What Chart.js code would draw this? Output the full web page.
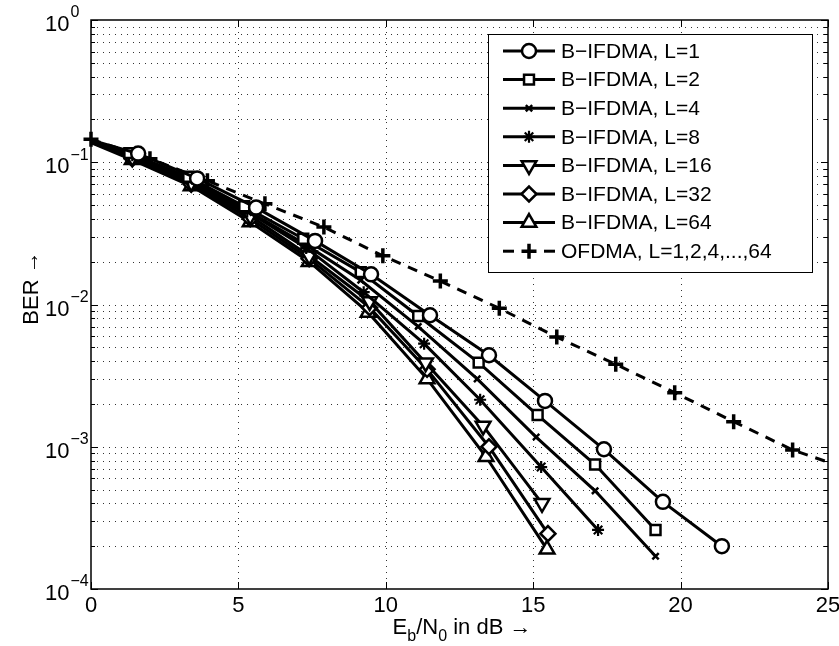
<!DOCTYPE html>
<html>
<head>
<meta charset="utf-8">
<script src="https://cdn.jsdelivr.net/npm/chart.js@4.4.0/dist/chart.umd.min.js"></script>
<style>
  html, body { margin: 0; padding: 0; background: #fff; }
  #wrap { width: 839px; height: 646px; }
</style>
</head>
<body>
<div id="wrap"><canvas id="grafico"></canvas></div>
<script>
// Eb/N0 (dB) and BER, one pair of arrays per curve
// (the first point of each B-IFDMA curve lies just left of the axis and is clipped)
const ebn0_L1 = [-0.35, 1.6, 3.6, 5.6, 7.6, 9.5, 11.5, 13.5, 15.4, 17.4, 19.4, 21.4];
const ber_L1 = [0.15, 0.115, 0.077, 0.048, 0.028, 0.0163, 0.0084, 0.0044, 0.0021, 0.00096, 0.00041, 0.0002];
const ebn0_L2 = [-0.7, 1.3, 3.3, 5.2, 7.2, 9.15, 11.1, 13.15, 15.15, 17.1, 19.15];
const ber_L2 = [0.155, 0.116, 0.079, 0.049, 0.029, 0.0169, 0.0083, 0.0039, 0.00167, 0.00075, 0.00026];
const ebn0_L4 = [-0.7, 1.3, 3.3, 5.2, 7.2, 9.15, 11.1, 13.1, 15.1, 17.1, 19.15];
const ber_L4 = [0.155, 0.114, 0.077, 0.047, 0.027, 0.0148, 0.007, 0.003, 0.00117, 0.00049, 0.00017];
const ebn0_L8 = [-0.6, 1.4, 3.3, 5.3, 7.3, 9.25, 11.3, 13.2, 15.27, 17.2];
const ber_L8 = [0.155, 0.112, 0.075, 0.045, 0.025, 0.0122, 0.0053, 0.00214, 0.00072, 0.00026];
const ebn0_L16 = [-0.6, 1.4, 3.4, 5.4, 7.4, 9.45, 11.35, 13.3, 15.3];
const ber_L16 = [0.155, 0.108, 0.072, 0.042, 0.022, 0.0105, 0.0039, 0.0014, 0.0004];
const ebn0_L32 = [-0.6, 1.4, 3.4, 5.4, 7.4, 9.45, 11.4, 13.5, 15.5];
const ber_L32 = [0.155, 0.106, 0.070, 0.040, 0.021, 0.0095, 0.0035, 0.001, 0.000245];
const ebn0_L64 = [-0.6, 1.4, 3.4, 5.4, 7.4, 9.4, 11.4, 13.4, 15.47];
const ber_L64 = [0.155, 0.104, 0.068, 0.038, 0.020, 0.0088, 0.003, 0.00085, 0.00019];
const ebn0_ofdma = [0, 2, 3.95, 5.9, 7.9, 9.9, 11.85, 13.85, 15.8, 17.8, 19.8, 21.8, 23.8, 25];
const ber_ofdma = [0.145, 0.106, 0.074, 0.051, 0.035, 0.022, 0.0146, 0.0094, 0.0059, 0.0038, 0.0024, 0.0015, 0.00095, 0.00078];

const seriesNames = ['B\u2212IFDMA, L=1', 'B\u2212IFDMA, L=2', 'B\u2212IFDMA, L=4', 'B\u2212IFDMA, L=8',
                     'B\u2212IFDMA, L=16', 'B\u2212IFDMA, L=32', 'B\u2212IFDMA, L=64', 'OFDMA, L=1,2,4,...,64'];
const xTicks = [0, 5, 10, 15, 20, 25];
const yTickExponents = [0, -1, -2, -3, -4];

const FONT = '"Liberation Sans", Arial, sans-serif';

function pts(xs, ys) {
    return xs.map((v, i) => ({ x: v, y: ys[i] }));
}

function serie(label, xs, ys, style, radius, extra) {
    return Object.assign({
        label: label,
        data: pts(xs, ys),
        showLine: true,
        borderColor: '#000',
        borderWidth: 3,
        pointStyle: style,
        pointRadius: radius,
        pointBorderColor: '#000',
        pointBackgroundColor: '#fff',
        pointBorderWidth: 2.5,
        clip: { left: 0, top: false, right: false, bottom: false }
    }, extra || {});
}

const datasets = [
    serie(seriesNames[0], ebn0_L1, ber_L1, 'circle', 7),
    serie(seriesNames[1], ebn0_L2, ber_L2, 'rect', 7),
    serie(seriesNames[2], ebn0_L4, ber_L4, 'crossRot', 4.5),
    serie(seriesNames[3], ebn0_L8, ber_L8, 'star', 6, { pointBorderWidth: 2.2 }),
    serie(seriesNames[4], ebn0_L16, ber_L16, 'triangle', 8.5, { pointRotation: 180 }),
    serie(seriesNames[5], ebn0_L32, ber_L32, 'rectRot', 7.5),
    serie(seriesNames[6], ebn0_L64, ber_L64, 'triangle', 8.5),
    serie(seriesNames[7], ebn0_ofdma, ber_ofdma, 'cross', 7.5, {
        borderDash: [10, 8],
        pointBorderWidth: 3.5,
        clip: false,
        pointRadius: ebn0_ofdma.map((v, i) => i === ebn0_ofdma.length - 1 ? 0 : 7.5)
    })
];

function hline(ctx, x1, x2, y) { ctx.beginPath(); ctx.moveTo(x1, y); ctx.lineTo(x2, y); ctx.stroke(); }
function vline(ctx, x, y1, y2) { ctx.beginPath(); ctx.moveTo(x, y1); ctx.lineTo(x, y2); ctx.stroke(); }

const matlabAxes = {
    id: 'matlabAxes',
    beforeDatasetsDraw(chart) {
        const { ctx, chartArea: a, scales: { x, y } } = chart;
        ctx.save();
        ctx.strokeStyle = '#333';
        ctx.lineWidth = 1;
        ctx.setLineDash([1, 5]);
        xTicks.forEach(v => {
            if (v <= 0 || v >= 25) return;
            vline(ctx, Math.round(x.getPixelForValue(v)) + 0.5, a.top, a.bottom);
        });
        for (let e = -4; e < 0; e++) {
            for (let m = 1; m < 10; m++) {
                const v = m * Math.pow(10, e);
                if (m === 1 && e === -4) continue;
                hline(ctx, a.left, a.right, Math.round(y.getPixelForValue(v)) + 0.5);
            }
        }
        ctx.restore();
    },
    afterDraw(chart) {
        const { ctx, chartArea: a, scales: { x, y } } = chart;
        ctx.save();
        ctx.setLineDash([]);
        ctx.strokeStyle = '#000';
        ctx.lineWidth = 1;
        // ticks pointing inward
        xTicks.forEach(v => {
            const px = Math.round(x.getPixelForValue(v)) + 0.5;
            vline(ctx, px, a.bottom, a.bottom - 7);
            vline(ctx, px, a.top, a.top + 7);
        });
        for (let e = -4; e <= 0; e++) {
            for (let m = 1; m < 10; m++) {
                const v = m * Math.pow(10, e);
                if (v > 1) break;
                const py = Math.round(y.getPixelForValue(v)) + 0.5;
                const len = m === 1 ? 7 : 4;
                hline(ctx, a.left, a.left + len, py);
                hline(ctx, a.right, a.right - len, py);
            }
        }
        // box
        ctx.lineWidth = 1.5;
        ctx.strokeRect(a.left, a.top, a.right - a.left, a.bottom - a.top);

        // tick labels
        ctx.fillStyle = '#000';
        ctx.font = '22px ' + FONT;
        ctx.textAlign = 'center';
        ctx.textBaseline = 'middle';
        xTicks.forEach(v => ctx.fillText(String(v), x.getPixelForValue(v), a.bottom + 17));
        yTickExponents.forEach(e => {
            const py = y.getPixelForValue(Math.pow(10, e));
            ctx.font = '22px ' + FONT;
            ctx.textAlign = 'left';
            ctx.fillText('10', 45, py + 5);
            const w = ctx.measureText('10').width;
            ctx.font = '16px ' + FONT;
            ctx.fillText(e < 0 ? '\u2212' + Math.abs(e) : String(e), 45 + w + 1, py - 7);
        });

        // axis titles
        ctx.textAlign = 'left';
        ctx.textBaseline = 'alphabetic';
        const parts = [['E', 22, 0], ['b', 16, 7], ['/N', 22, 0], ['0', 16, 7], [' in dB \u2192', 22, 0]];
        let total = 0;
        parts.forEach(p => { ctx.font = p[1] + 'px ' + FONT; total += ctx.measureText(p[0]).width; });
        let cx = 462 - total / 2;
        parts.forEach(p => {
            ctx.font = p[1] + 'px ' + FONT;
            ctx.fillText(p[0], cx, 634 + p[2]);
            cx += ctx.measureText(p[0]).width;
        });
        ctx.save();
        ctx.translate(38, 288);
        ctx.rotate(-Math.PI / 2);
        ctx.font = '22px ' + FONT;
        ctx.textAlign = 'center';
        ctx.fillText('BER \u2192', 0, 0);
        ctx.restore();

        // legend
        const lx = 488, ly = 34, lw = 324, lh = 238;
        ctx.fillStyle = '#fff';
        ctx.fillRect(lx, ly, lw, lh);
        ctx.strokeStyle = '#000';
        ctx.lineWidth = 1;
        ctx.strokeRect(lx + 0.5, ly + 0.5, lw, lh);
        chart.data.datasets.forEach((ds, i) => {
            const ry = 51 + i * 28.6;
            ctx.strokeStyle = '#000';
            ctx.lineWidth = ds.borderWidth;
            if (ds.borderDash) {
                hline(ctx, 503, 514, ry);
                hline(ctx, 544, 555, ry);
            } else {
                hline(ctx, 503, 555, ry);
            }
            const r = Array.isArray(ds.pointRadius) ? ds.pointRadius[0] : ds.pointRadius;
            ctx.fillStyle = ds.pointBackgroundColor;
            ctx.lineWidth = ds.pointBorderWidth;
            Chart.helpers.drawPoint(ctx, {
                pointStyle: ds.pointStyle,
                rotation: ds.pointRotation || 0,
                radius: r,
                borderWidth: ds.pointBorderWidth
            }, 529, ry);
            ctx.fillStyle = '#000';
            ctx.font = '21px ' + FONT;
            ctx.textBaseline = 'middle';
            ctx.textAlign = 'left';
            ctx.fillText(ds.label, 561, ry + 1);
        });
        ctx.restore();
    }
};

new Chart(document.getElementById('grafico').getContext('2d'), {
    type: 'scatter',
    data: { datasets: datasets },
    options: {
        responsive: true,
        maintainAspectRatio: false,
        animation: false,
        layout: { padding: { top: 20, right: 7, left: 0, bottom: 0 } },
        plugins: { legend: { display: false }, tooltip: { enabled: false } },
        scales: {
            x: {
                type: 'linear', min: 0, max: 25,
                ticks: { display: false },
                grid: { display: false },
                border: { display: false },
                afterFit: s => { s.height = 57; }
            },
            y: {
                type: 'logarithmic', min: 1e-4, max: 1,
                ticks: { display: false },
                grid: { display: false },
                border: { display: false },
                afterFit: s => { s.width = 91; }
            }
        }
    },
    plugins: [matlabAxes]
});
</script>
</body>
</html>
